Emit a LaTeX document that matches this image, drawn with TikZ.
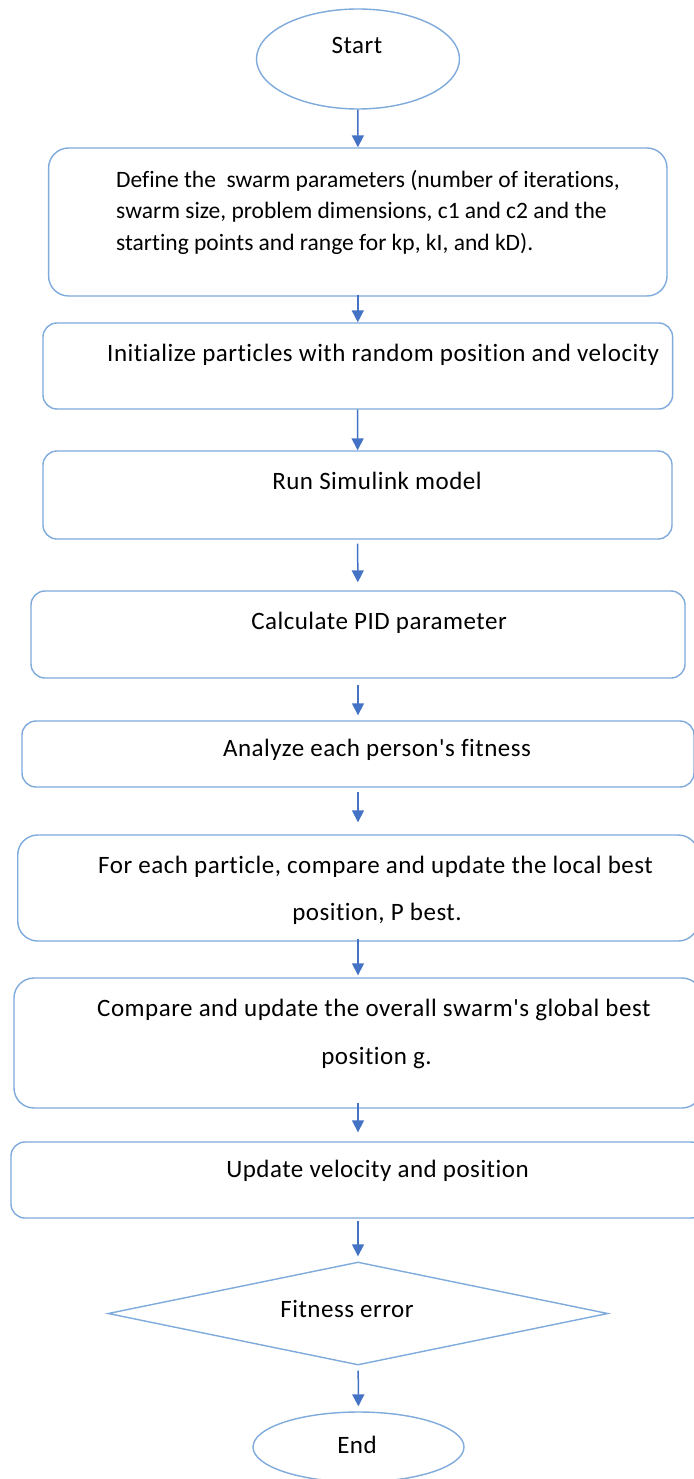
\documentclass[tikz,border=0pt]{standalone}
\usepackage{fontspec}
\setmainfont{Carlito}[Ligatures={TeXOff,CommonOff}]
\newfontfamily\spaced{Carlito}[Ligatures={TeXOff,CommonOff},LetterSpace=2]
\usetikzlibrary{shapes.geometric,arrows.meta}
\definecolor{boxblue}{HTML}{7FAADC}
\definecolor{arrblue}{HTML}{4472C4}
\begin{document}
\begin{tikzpicture}[x=1pt,y=-1pt,
  box/.style={draw=boxblue, line width=1.4pt, rounded corners=14pt, inner sep=0pt, fill=none},
  bigbox/.style={box, rounded corners=20pt},
  oval/.style={draw=boxblue, line width=1.4pt, ellipse, inner sep=0pt},
  txt/.style={inner sep=0pt, text=black, font=\spaced\fontsize{25}{30}\selectfont},
  smalltxt/.style={inner sep=0pt, text=black, font=\fontsize{23.5}{28}\selectfont},
  arr/.style={draw=arrblue, line width=1.5pt, -{Triangle[length=12pt,width=12pt]}}]
\fill[white] (0,0) rectangle (693,1479);
\useasboundingbox (0,0) rectangle (693,1479);

% shapes
\node[oval, minimum width=203pt, minimum height=100pt] (start) at (358,59) {};
\node[bigbox, minimum width=618.4pt, minimum height=148pt] (b1) at (357.8,222) {};
\node[box, minimum width=629.6pt, minimum height=86pt] (b2) at (357.8,366) {};
\node[box, minimum width=629pt, minimum height=88pt] (b3) at (357.5,495) {};
\node[box, minimum width=654pt, minimum height=87pt] (b4) at (358,634.5) {};
\node[box, minimum width=672pt, minimum height=66pt] (b5) at (358,754) {};
\node[bigbox, minimum width=680.6pt, minimum height=106pt] (b6) at (358,888) {};
\node[bigbox, minimum width=688pt, minimum height=130pt] (b7) at (358,1043) {};
\node[box, minimum width=694pt, minimum height=76pt] (b8) at (358,1180) {};
\node[draw=boxblue, line width=1.4pt, diamond, inner sep=0pt, minimum width=500pt, minimum height=103pt] (dia) at (358,1313.5) {};
\node[oval, minimum width=211pt, minimum height=70pt] (end) at (358.5,1447) {};

% texts
\node[txt, anchor=base] (tstart) at (357,54) {Start};
\node[smalltxt, anchor=base west] (t1a) at (116,188) {Define the\ \ swarm parameters (number of iterations,};
\node[smalltxt, anchor=base west] (t1b) at (116,219) {swarm size, problem dimensions, c1 and c2 and the};
\node[smalltxt, anchor=base west] (t1c) at (116,251) {starting points and range for kp, kI, and kD).};
\node[txt, anchor=base west] (t2) at (107,361) {Initialize particles with random position and velocity};
\node[txt, anchor=base] (t3) at (377,489) {Run Simulink model};
\node[txt, anchor=base] (t4) at (379,629.3) {Calculate PID parameter};
\node[txt, anchor=base] (t5) at (377,756.7) {Analyze each person's fitness};
\node[txt, anchor=base west] (t6a) at (98,873) {For each particle, compare and update the local best};
\node[txt, anchor=base] (t6b) at (377,920.7) {position, P best.};
\node[txt, anchor=base west] (t7a) at (97,1016.7) {Compare and update the overall swarm's global best};
\node[txt, anchor=base] (t7b) at (376.5,1064) {position g.};
\node[txt, anchor=base] (t8) at (377.5,1177.7) {Update velocity and position};
\node[txt, anchor=base] (tdia) at (347,1317) {Fitness error};
\node[txt, anchor=base] (tend) at (357,1453) {End};

% connectors
\draw[arr] (start) -- (b1);
\draw[arr, shorten <=-2pt] (b1) -- (b2);
\draw[arr] (b2) -- (b3);
\draw[arr, shorten <=4pt, shorten >=8pt] (b3) -- (b4);
\draw[arr, shorten <=6pt, shorten >=5pt] (b4) -- (b5);
\draw[arr, shorten <=4pt, shorten >=12pt] (b5) -- (b6);
\draw[arr, shorten <=-3pt, shorten >=2pt] (b6) -- (b7);
\draw[arr, shorten <=-6pt, shorten >=9pt] (b7) -- (b8);
\draw[arr, shorten <=2pt, shorten >=5pt] (b8) -- (dia);
\draw[arr, shorten <=5pt, shorten >=5pt] (dia) -- (end);
\end{tikzpicture}
\end{document}
